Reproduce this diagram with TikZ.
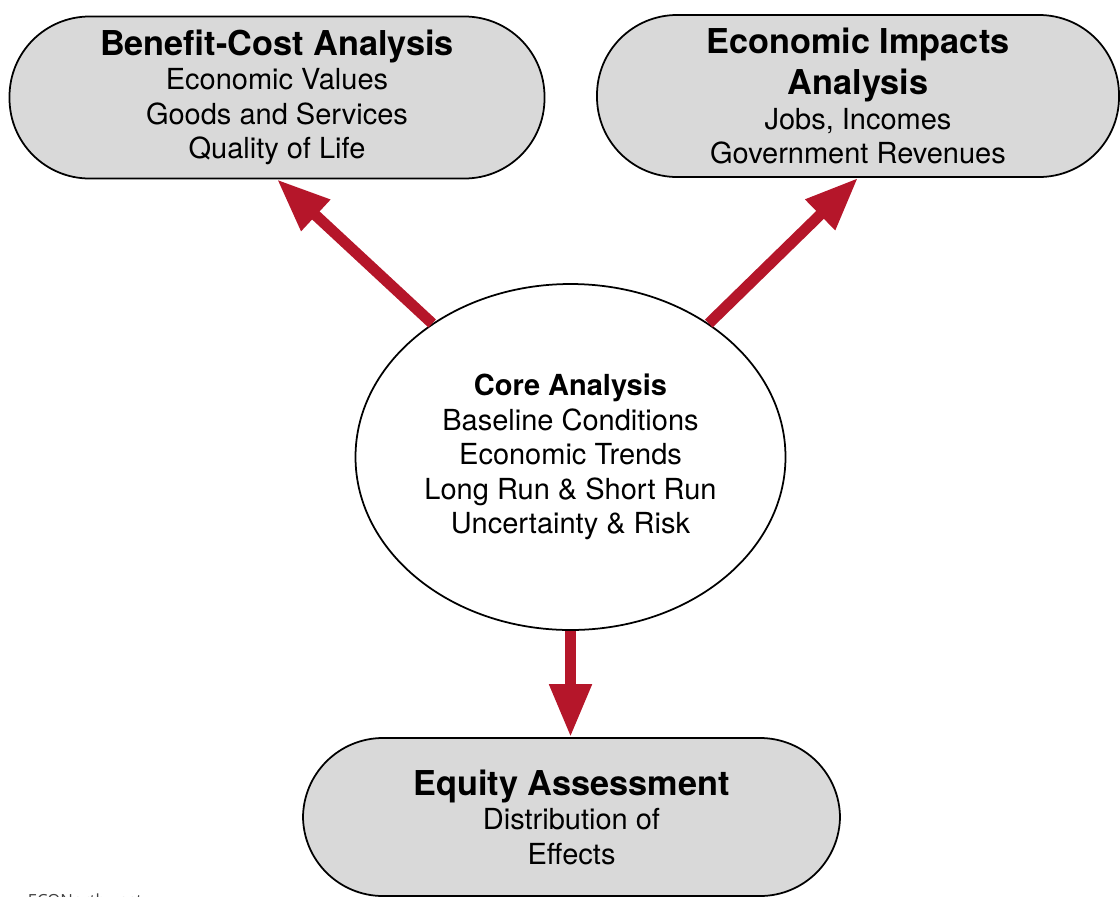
\documentclass[tikz,border=0pt]{standalone}
\usepackage{fontspec}
\setmainfont{TeX Gyre Heros}
\newfontfamily\creditfont{Open Sans}
\usetikzlibrary{shapes.geometric,arrows.meta}
\definecolor{boxgray}{RGB}{217,217,217}
\definecolor{arrowred}{RGB}{181,22,42}
\newcommand{\hd}[1]{{\fontsize{19.5}{23.8}\selectfont\bfseries #1}}
\newcommand{\corehd}[1]{{\bfseries #1}}

\begin{document}
\begin{tikzpicture}[text centered, line width=1pt,
	pill/.style={draw, fill=boxgray, rounded corners=1.6cm, minimum height=3.24cm, align=center, font=\fontsize{16.5}{19.6}\selectfont},
	core/.style={ellipse, draw, fill=white, minimum width=8.6cm, minimum height=6.92cm, align=center, font=\fontsize{16.5}{19.6}\selectfont},
	flow/.style={draw=arrowred, line width=.22cm, -{Triangle[length=1.06cm, width=.8cm]}}]
	\useasboundingbox (0,0) rectangle (22.4,-17.92);
	\node[pill, minimum width=10.7cm] (bca) at (5.54,-1.95) {\hd{Benefit-Cost Analysis}\\Economic Values\\Goods and Services\\Quality of Life};
	\node[pill, minimum width=10.44cm] (eia) at (17.16,-1.92) {\hd{Economic Impacts}\\[4pt]\hd{Analysis}\\Jobs, Incomes\\Government Revenues};
	\node[core] (core) at (11.41,-9.14) {\corehd{Core Analysis}\\Baseline Conditions\\Economic Trends\\Long Run \& Short Run\\Uncertainty \& Risk};
	\node[pill, minimum width=10.74cm, minimum height=3.16cm] (equity) at (11.43,-16.34) {\hd{Equity Assessment}\\Distribution of\\Effects};
	\node[anchor=north west, inner sep=0, text=black!75, font=\creditfont\fontsize{9.5}{11}\selectfont] (credit) at (.54,-17.86) {ECONorthwest};
	\draw[flow] (core.136) -- (bca.south);
	\draw[flow] (core.44) -- (eia.south);
	\draw[flow] (core.south) -- (core.south |- equity.north);
\end{tikzpicture}
\end{document}
